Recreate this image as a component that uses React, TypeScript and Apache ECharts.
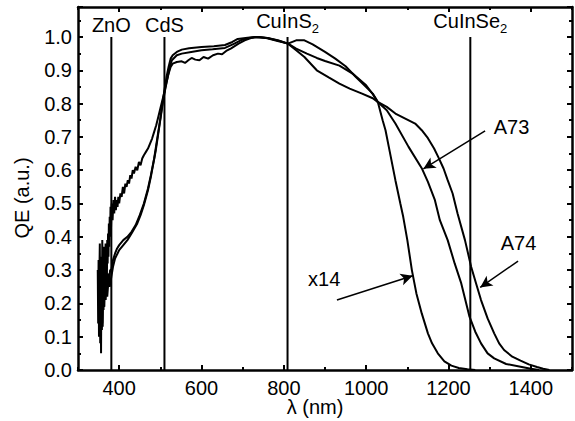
import React, { useEffect, useRef } from "react";
import * as echarts from "echarts";

const FONT = "'Liberation Sans', Arial, Helvetica, sans-serif";

// QE curves: [wavelength nm, QE a.u.]
const curveX14: [number, number][] = [
  [348, 0.30], [349, 0.14], [350, 0.33], [351, 0.10], [352, 0.29], [353, 0.38], [354, 0.08], [355, 0.32],
  [356, 0.05], [357, 0.34], [358, 0.18], [359, 0.39], [360, 0.13], [361, 0.33], [362, 0.22], [363, 0.37],
  [364, 0.19], [365, 0.35], [366, 0.26], [367, 0.38], [368, 0.29], [369, 0.36], [370, 0.25], [371, 0.39],
  [372, 0.32], [373, 0.41], [374, 0.34], [375, 0.44], [376, 0.37], [377, 0.46], [378, 0.40], [379, 0.49],
  [380, 0.42], [382, 0.50], [384, 0.45], [386, 0.51], [388, 0.47], [390, 0.52], [392, 0.48], [394, 0.51],
  [396, 0.49], [398, 0.52], [400, 0.50], [403, 0.53], [406, 0.52], [409, 0.55], [412, 0.53], [415, 0.56],
  [418, 0.55], [421, 0.57], [424, 0.56], [427, 0.585], [430, 0.575], [433, 0.60], [436, 0.59], [440, 0.61],
  [444, 0.60], [448, 0.625], [452, 0.615], [456, 0.635], [460, 0.645], [465, 0.655], [470, 0.665],
  [475, 0.68], [480, 0.695], [485, 0.715], [490, 0.735], [495, 0.76], [500, 0.785], [505, 0.81],
  [510, 0.835], [515, 0.865], [520, 0.89], [525, 0.91], [530, 0.92], [540, 0.925], [552, 0.927],
  [560, 0.922], [568, 0.93], [576, 0.937], [585, 0.932], [595, 0.93], [605, 0.94], [616, 0.935],
  [628, 0.945], [640, 0.95], [650, 0.948], [660, 0.958], [672, 0.966], [690, 0.98], [705, 0.99],
  [720, 0.997], [740, 1.0], [760, 0.996], [785, 0.988], [810, 0.98], [830, 0.99], [850, 0.99],
  [870, 0.978], [900, 0.955], [925, 0.935], [950, 0.912], [975, 0.88], [1000, 0.85], [1016, 0.83],
  [1028, 0.806], [1040, 0.75], [1047, 0.72], [1055, 0.67], [1071, 0.57], [1083, 0.50], [1090, 0.46],
  [1100, 0.39], [1111, 0.30], [1122, 0.23], [1135, 0.17], [1150, 0.11], [1160, 0.08], [1174, 0.05],
  [1190, 0.026], [1207, 0.013], [1225, 0.006], [1246, 0.002], [1265, 0.0],
];

const curveA73: [number, number][] = [
  [352, 0.22], [354, 0.15], [356, 0.27], [358, 0.12], [360, 0.25], [362, 0.18], [364, 0.28], [366, 0.21],
  [368, 0.27], [370, 0.23], [372, 0.29], [375, 0.26], [378, 0.30], [381, 0.30], [385, 0.33], [390, 0.35],
  [395, 0.365], [400, 0.375], [410, 0.39], [420, 0.40], [430, 0.415], [440, 0.435], [450, 0.465],
  [460, 0.50], [470, 0.545], [477, 0.585], [485, 0.635], [490, 0.675], [495, 0.715], [500, 0.755],
  [505, 0.80], [510, 0.84], [515, 0.88], [520, 0.91], [525, 0.935], [530, 0.945], [540, 0.955],
  [552, 0.962], [570, 0.966], [600, 0.97], [630, 0.972], [657, 0.976], [675, 0.985], [688, 0.994],
  [712, 0.998], [730, 1.0], [760, 0.997], [790, 0.988], [810, 0.98], [830, 0.965], [856, 0.95],
  [880, 0.937], [900, 0.928], [935, 0.914], [967, 0.89], [1000, 0.855], [1015, 0.83], [1027, 0.806],
  [1050, 0.78], [1071, 0.74], [1103, 0.67], [1135, 0.606], [1150, 0.565], [1167, 0.51], [1179, 0.45],
  [1198, 0.39], [1215, 0.32], [1231, 0.26], [1251, 0.16], [1265, 0.115], [1279, 0.08], [1295, 0.05],
  [1311, 0.035], [1340, 0.018], [1375, 0.01], [1400, 0.004], [1420, 0.0],
];

const curveA74: [number, number][] = [
  [355, 0.18], [357, 0.26], [359, 0.14], [361, 0.24], [363, 0.19], [365, 0.27], [367, 0.21], [369, 0.26],
  [371, 0.22], [374, 0.27], [377, 0.25], [381, 0.28], [385, 0.31], [390, 0.335], [396, 0.35], [400, 0.36],
  [410, 0.375], [420, 0.39], [430, 0.41], [444, 0.44], [452, 0.465], [460, 0.495], [470, 0.54],
  [477, 0.58], [483, 0.62], [489, 0.66], [495, 0.71], [501, 0.76], [507, 0.81], [513, 0.85], [518, 0.88],
  [523, 0.91], [528, 0.93], [540, 0.945], [552, 0.95], [575, 0.955], [600, 0.96], [627, 0.963],
  [657, 0.967], [680, 0.98], [695, 0.99], [715, 0.997], [735, 1.0], [760, 0.997], [785, 0.99],
  [810, 0.98], [830, 0.96], [850, 0.94], [880, 0.90], [910, 0.878], [935, 0.86], [960, 0.845],
  [990, 0.83], [1016, 0.816], [1027, 0.806], [1050, 0.79], [1071, 0.77], [1095, 0.755], [1119, 0.74],
  [1135, 0.72], [1150, 0.696], [1165, 0.665], [1175, 0.64], [1188, 0.605], [1198, 0.57], [1210, 0.53],
  [1222, 0.47], [1240, 0.39], [1255, 0.31], [1267, 0.26], [1279, 0.21], [1295, 0.155], [1311, 0.11],
  [1323, 0.08], [1335, 0.06], [1355, 0.04], [1375, 0.028], [1395, 0.017], [1415, 0.009], [1430, 0.004],
  [1445, 0.0],
];

// Band-gap reference lines (nm)
const gapNames = ["ZnO", "CdS", "CuInS_2", "CuInSe_2"];
const gapWavelengths = [381, 510, 809, 1253];
const gapTop = 1.0;

// Curve annotations: label position and arrow [from, to] in data units
const annotNames = ["A73", "A74", "x14"];
const annotLabelPos: [number, number][] = [[1353, 0.73], [1370, 0.38], [898, 0.273]];
const annotArrowFrom: [number, number][] = [[1289, 0.718], [1369, 0.327], [929, 0.21]];
const annotArrowTo: [number, number][] = [[1139, 0.604], [1277, 0.248], [1113, 0.283]];

const xMajorTicks = [400, 600, 800, 1000, 1200, 1400];

function richName(n: string): string {
  const parts = n.split("_");
  return parts.length > 1 ? `{a|${parts[0]}}{s|${parts[1]}}` : `{a|${n}}`;
}

export default function App() {
  const ref = useRef<HTMLDivElement>(null);
  useEffect(() => {
    if (!ref.current) return;
    const chart = echarts.init(ref.current, undefined, { renderer: "svg" });
    const black = "#000";
    const tickFont = { fontSize: 20, color: black, fontFamily: FONT };

    const baseX = (pos: "bottom" | "top", labels: boolean) => ({
      type: "value" as const,
      min: 300,
      max: 1500,
      interval: 100,
      position: pos,
      axisLine: { show: true, onZero: false, lineStyle: { color: black, width: 2.5 } },
      axisTick: { show: true, inside: true, length: 3, lineStyle: { color: black, width: 2 } },
      axisLabel: labels
        ? {
            show: true,
            margin: 8,
            ...tickFont,
            formatter: (v: number) => (v % 200 === 0 && v > 300 && v < 1500 ? String(v) : ""),
          }
        : { show: false },
      splitLine: { show: false },
    });
    const majorX = (pos: "bottom" | "top") => ({
      type: "value" as const,
      min: 300,
      max: 1500,
      position: pos,
      axisLine: { show: false, onZero: false },
      axisTick: { show: true, inside: true, length: 5, customValues: xMajorTicks, lineStyle: { color: black, width: 2 } },
      axisLabel: { show: false },
      splitLine: { show: false },
    });
    const baseY = (pos: "left" | "right", labels: boolean) => ({
      type: "value" as const,
      min: 0,
      max: 1.09,
      interval: 0.1,
      position: pos,
      axisLine: { show: true, onZero: false, lineStyle: { color: black, width: 2.5 } },
      axisTick: { show: true, inside: true, length: 5, lineStyle: { color: black, width: 2 } },
      minorTick: { show: true, splitNumber: 2, length: 3, lineStyle: { color: black, width: 2 } },
      axisLabel: labels
        ? {
            show: true,
            margin: 6,
            showMaxLabel: false,
            ...tickFont,
            formatter: (v: number) => (v <= 1.0001 ? v.toFixed(1) : ""),
          }
        : { show: false },
      splitLine: { show: false },
      minorSplitLine: { show: false },
    });

    const curveSeries = [curveX14, curveA73, curveA74].map((d) => ({
      type: "line" as const,
      data: d,
      showSymbol: false,
      symbol: "none",
      lineStyle: { color: black, width: 2 },
      xAxisIndex: 0,
      yAxisIndex: 0,
      z: 3,
    }));

    const gapSeries = gapNames.map((n, i) => ({
      type: "line" as const,
      data: [
        [gapWavelengths[i], 0],
        {
          value: [gapWavelengths[i], gapTop],
          label: {
            show: true,
            position: "top",
            distance: 2,
            formatter: richName(n),
            rich: {
              a: { fontSize: 20, color: black, fontFamily: FONT },
              s: { fontSize: 13, color: black, fontFamily: FONT, padding: [14, 0, 0, 0] },
            },
          },
        },
      ],
      symbol: "circle",
      symbolSize: 0,
      showSymbol: true,
      lineStyle: { color: black, width: 2 },
      itemStyle: { color: black },
      xAxisIndex: 0,
      yAxisIndex: 0,
      z: 2,
    }));

    const annotSeries = {
      type: "scatter" as const,
      symbolSize: 0,
      itemStyle: { color: black, opacity: 1 },
      data: annotNames.map((n, i) => ({ name: n, value: annotLabelPos[i] })),
      label: {
        show: true,
        position: "inside",
        formatter: "{b}",
        fontSize: 20,
        color: black,
        opacity: 1,
        textBorderWidth: 0,
        fontFamily: FONT,
      },
      markLine: {
        silent: true,
        symbol: ["none", "arrow"],
        symbolSize: [9, 12],
        label: { show: false },
        lineStyle: { color: black, width: 1.5, type: "solid", opacity: 1 },
        data: annotNames.map((_, i) => [
          { coord: annotArrowFrom[i] },
          { coord: annotArrowTo[i] },
        ]),
      },
      xAxisIndex: 0,
      yAxisIndex: 0,
      z: 4,
    };

    chart.setOption({
      animation: false,
      backgroundColor: "#fff",
      grid: { left: 78, right: -3, top: 7, bottom: 51, containLabel: false },
      xAxis: [baseX("bottom", true), majorX("bottom"), baseX("top", false), majorX("top")],
      yAxis: [baseY("left", true), baseY("right", false)],
      graphic: [
        {
          type: "text",
          x: 22,
          y: 198,
          rotation: Math.PI / 2,
          style: {
            text: "QE (a.u.)",
            align: "center",
            verticalAlign: "middle",
            fontSize: 20,
            fontFamily: FONT,
            fill: black,
          },
        },
        {
          type: "text",
          x: 315,
          y: 407,
          style: {
            text: "λ (nm)",
            align: "center",
            verticalAlign: "middle",
            fontSize: 20,
            fontFamily: FONT,
            fill: black,
          },
        },
      ],
      series: [...curveSeries, ...gapSeries, annotSeries],
    });
    return () => chart.dispose();
  }, []);
  return (
    <div
      ref={ref}
      style={{ position: "fixed", left: 0, top: 0, width: 575, height: 421, background: "#fff" }}
    />
  );
}
